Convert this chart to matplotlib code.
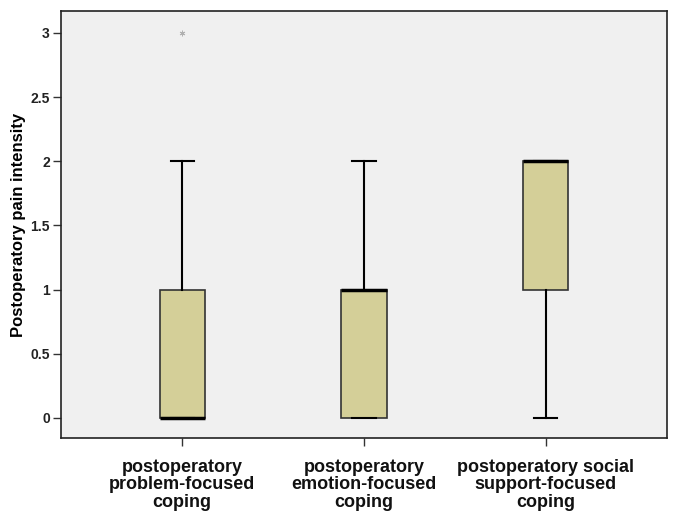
import matplotlib
matplotlib.use("Agg")
import matplotlib.pyplot as plt

plt.rcParams["font.family"] = ["Liberation Sans", "DejaVu Sans"]

categories = ["postoperatory\nproblem-focused\ncoping",
              "postoperatory\nemotion-focused\ncoping",
              "postoperatory social\nsupport-focused\ncoping"]
whislo = [0, 0, 0]
q1 = [0, 0, 1]
med = [0, 1, 2]
q3 = [1, 1, 2]
whishi = [2, 2, 2]
fliers = [[3], [], []]
yticks = [0, 0.5, 1, 1.5, 2, 2.5, 3]
yticklabels = ["0", "0.5", "1", "1.5", "2", "2.5", "3"]

fig = plt.figure(figsize=(6.77, 5.18), dpi=100)
ax = fig.add_axes([61/677, 1-438/518, 606/677, 427/518])
ax.set_facecolor("#F0F0F0")

stats = []
for i in range(len(categories)):
    stats.append(dict(whislo=whislo[i], q1=q1[i], med=med[i], q3=q3[i],
                      whishi=whishi[i], fliers=fliers[i]))

ax.bxp(stats, positions=[1, 2, 3], widths=0.25, patch_artist=True,
       showfliers=True,
       boxprops=dict(facecolor="#D4CF98", edgecolor="#333333", linewidth=1.2),
       medianprops=dict(color="black", linewidth=2.5),
       whiskerprops=dict(color="black", linewidth=1.5),
       capprops=dict(color="black", linewidth=1.5),
       capwidths=0.127,
       flierprops=dict(marker=(6, 2, 0), markersize=4, markeredgecolor="#B0B0B0",
                       markeredgewidth=0.7, linestyle="none"))

ax.set_xlim(1 - 0.667, 3 + 0.667)
ax.set_ylim(-0.156, 3.17)
ax.set_yticks(yticks)
ax.set_yticklabels(yticklabels, fontsize=10, fontweight="bold", color="#222222")
ax.set_xticks([1, 2, 3])
ax.set_xticklabels(categories, fontsize=13, fontweight="bold", color="#111111",
                   linespacing=1.05)
ax.tick_params(axis="both", direction="out", length=6, width=1, color="#333333")
ax.tick_params(axis="y", pad=2)
ax.tick_params(axis="x", pad=9)
ax.set_ylabel("Postoperatory pain intensity", fontsize=12, fontweight="bold", labelpad=3)
for s in ax.spines.values():
    s.set_color("#222222")
    s.set_linewidth(1.2)

fig.savefig("out.png", dpi=100)
